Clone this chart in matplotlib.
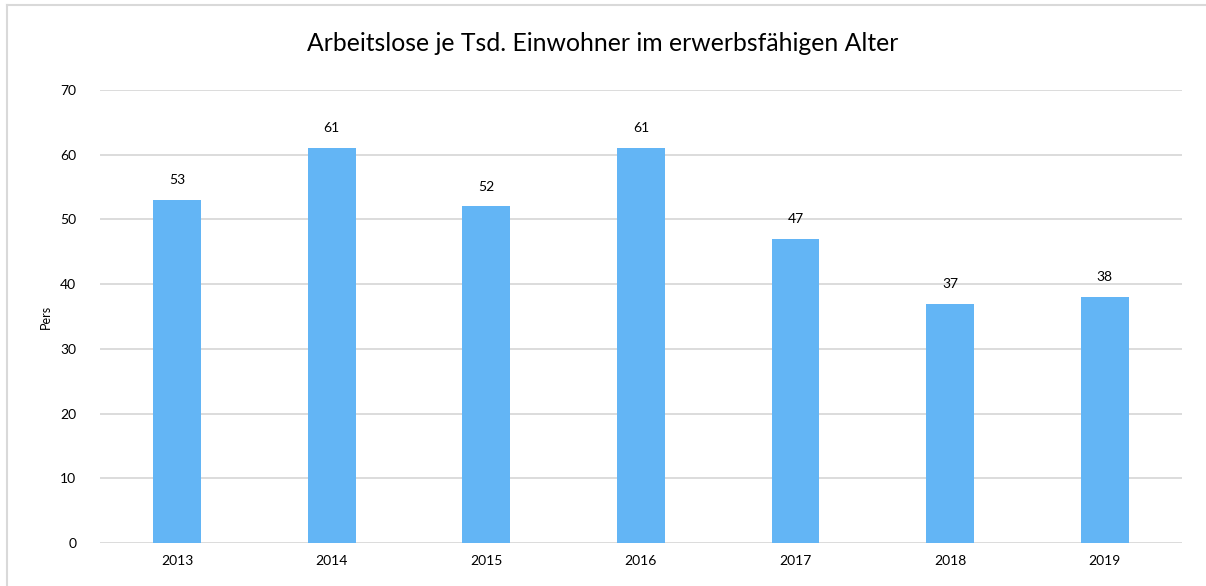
import matplotlib
matplotlib.use("Agg")
import matplotlib.pyplot as plt
from matplotlib.lines import Line2D

years = ["2013", "2014", "2015", "2016", "2017", "2018", "2019"]
values = [53, 61, 52, 61, 47, 37, 38]
y_ticks = [0, 10, 20, 30, 40, 50, 60, 70]

plt.rcParams["font.family"] = ["Lato", "DejaVu Sans"]

fig = plt.figure(figsize=(12.06, 5.86), dpi=100)
ax = fig.add_axes([0.0829, 0.0734, 0.8971, 0.773])

x = list(range(len(years)))
ax.bar(x, values, width=0.31, color="#63B5F5", zorder=3)

for xi, v in zip(x, values):
    ax.annotate(str(v), (xi, v), xytext=(0, 10), textcoords="offset points",
                ha="center", va="bottom", fontsize=10, color="#000000")

ax.set_xlim(-0.5, len(years) - 0.5)
ax.set_ylim(0, 70)
ax.set_yticks(y_ticks)
ax.set_xticks(x)
ax.set_xticklabels(years)
ax.tick_params(axis="both", length=0, labelsize=10, colors="#000000")
ax.tick_params(axis="y", pad=17)
ax.tick_params(axis="x", pad=9)
ax.grid(axis="y", color="#d9d9d9", linewidth=1.3, zorder=0)
for s in ax.spines.values():
    s.set_visible(False)
ax.set_ylabel("Pers", fontsize=9, labelpad=6)

fig.suptitle("Arbeitslose je Tsd. Einwohner im erwerbsfähigen Alter",
             y=0.925, va="center", fontsize=17.8, color="#000000")

# light frame along the top and left edge of the chart area
fig.lines.append(Line2D([0.006, 0.006], [0.0, 0.992], transform=fig.transFigure,
                        color="#d9d9d9", linewidth=1.5))
fig.lines.append(Line2D([0.006, 1.0], [0.992, 0.992], transform=fig.transFigure,
                        color="#d9d9d9", linewidth=1.5))

fig.savefig("out.png", dpi=100)
